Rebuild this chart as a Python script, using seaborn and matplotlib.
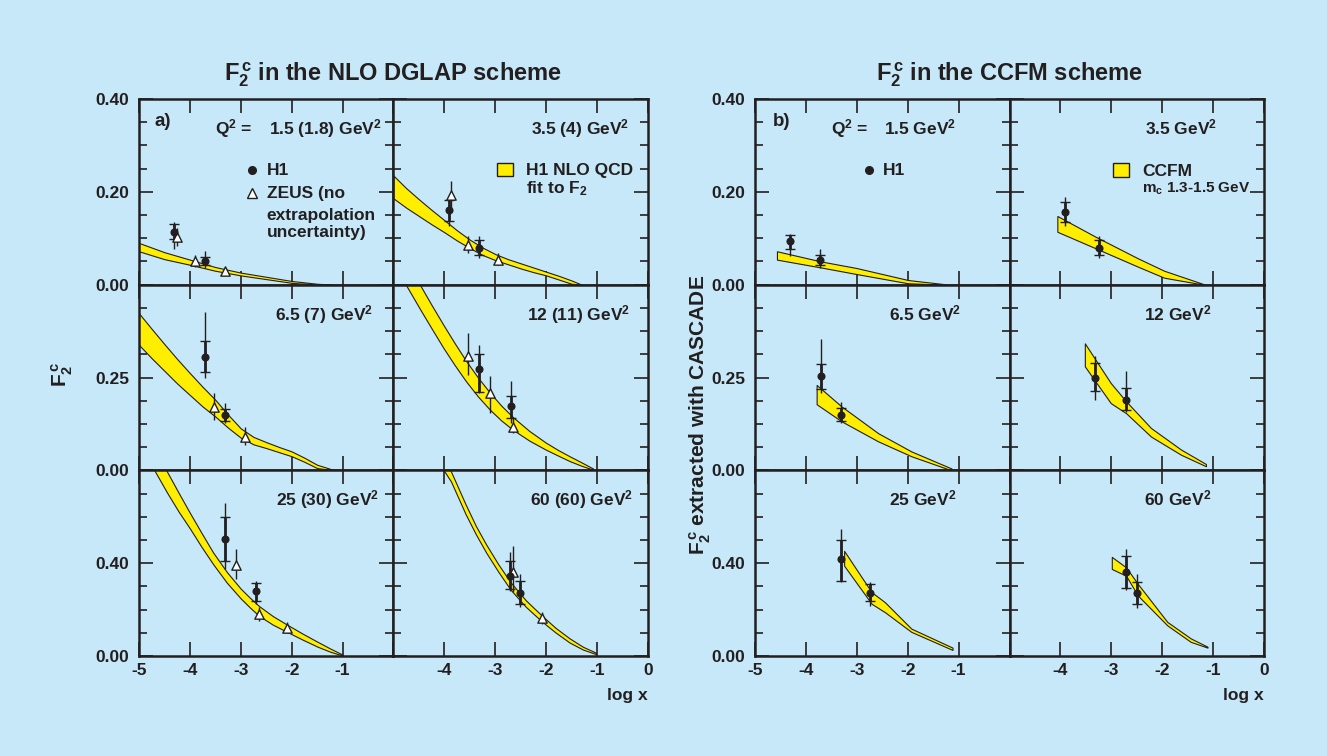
import matplotlib
matplotlib.use("Agg")
import matplotlib.pyplot as plt
import seaborn as sns
from matplotlib.patches import Rectangle
from matplotlib.ticker import FixedLocator, MultipleLocator

BG = '#c6e8f8'
INK = '#231f20'
BAND = '#ffee00'

# Q^2 bins shown in the panels
q2_dglap = ['1.5 (1.8)', '3.5 (4)', '6.5 (7)', '12 (11)', '25 (30)', '60 (60)']
q2_ccfm = ['1.5', '3.5', '6.5', '12', '25', '60']
row_top = [0.40, 0.50, 0.80]
row_ticklabels = [['0.00', '0.20', '0.40'], ['0.00', '0.25', ''], ['0.00', '0.40', '']]

# H1 NLO QCD fit band (log x, upper, lower) per panel
dglap_x = [
    [-5.0, -4.5, -4.0, -3.5, -3.0, -2.5, -2.0, -1.75, -1.5, -1.2],
    [-5.0, -4.75, -4.5, -4.25, -4.0, -3.75, -3.5, -3.25, -3.0, -2.75, -2.5, -2.25, -2.0,
     -1.75, -1.5, -1.3],
    [-5.0, -4.75, -4.5, -4.25, -4.0, -3.75, -3.5, -3.25, -3.0, -2.75, -2.5, -2.25, -2.0,
     -1.75, -1.5, -1.15],
    [-4.8, -4.46, -4.25, -4.02, -3.8, -3.57, -3.34, -3.11, -2.88, -2.65, -2.33, -2.01,
     -1.77, -1.54, -1.3, -1.08],
    [-4.8, -4.45, -4.22, -4.0, -3.77, -3.54, -3.27, -3.0, -2.82, -2.64, -2.37, -2.09,
     -1.79, -1.49, -1.25, -1.0],
    [-4.1, -3.87, -3.58, -3.38, -3.18, -2.94, -2.70, -2.40, -2.09, -1.82, -1.54, -1.28, -1.02],
]
dglap_hi = [
    [0.090, 0.070, 0.054, 0.038, 0.026, 0.017, 0.008, 0.005, 0.002, 0.0],
    [0.235, 0.208, 0.184, 0.161, 0.139, 0.117, 0.097, 0.080, 0.066, 0.055, 0.046, 0.037,
     0.028, 0.019, 0.009, 0.0],
    [0.423, 0.381, 0.340, 0.300, 0.262, 0.225, 0.190, 0.150, 0.113, 0.090, 0.076, 0.063,
     0.051, 0.034, 0.015, 0.0],
    [0.575, 0.495, 0.445, 0.392, 0.343, 0.294, 0.250, 0.210, 0.174, 0.143, 0.106, 0.075,
     0.055, 0.038, 0.021, 0.005],
    [0.940, 0.795, 0.703, 0.617, 0.530, 0.445, 0.361, 0.290, 0.251, 0.215, 0.172, 0.135,
     0.097, 0.061, 0.033, 0.006],
    [0.910, 0.795, 0.652, 0.560, 0.481, 0.395, 0.318, 0.240, 0.175, 0.122, 0.076, 0.040, 0.014],
]
dglap_lo = [
    [0.072, 0.055, 0.043, 0.030, 0.020, 0.012, 0.004, 0.002, 0.000, 0.0],
    [0.186, 0.166, 0.148, 0.130, 0.113, 0.095, 0.079, 0.064, 0.053, 0.044, 0.035, 0.027,
     0.020, 0.011, 0.002, 0.0],
    [0.338, 0.302, 0.268, 0.234, 0.203, 0.172, 0.145, 0.115, 0.088, 0.070, 0.060, 0.049,
     0.038, 0.023, 0.006, 0.0],
    [0.510, 0.430, 0.382, 0.330, 0.284, 0.239, 0.199, 0.164, 0.134, 0.109, 0.080, 0.056,
     0.040, 0.025, 0.012, 0.002],
    [0.840, 0.705, 0.622, 0.550, 0.470, 0.395, 0.315, 0.248, 0.209, 0.173, 0.135, 0.104,
     0.071, 0.040, 0.019, 0.002],
    [0.830, 0.752, 0.610, 0.524, 0.446, 0.363, 0.286, 0.212, 0.150, 0.102, 0.058, 0.028, 0.008],
]

# CCFM band per panel
ccfm_x = [
    [-4.57, -3.70, -3.01, -1.99, -1.27],
    [-4.06, -3.32, -2.48, -1.96, -1.18],
    [-3.79, -3.30, -2.58, -1.93, -1.14],
    [-3.52, -3.01, -2.71, -2.22, -1.63, -1.14],
    [-3.25, -2.71, -2.45, -1.93, -1.12],
    [-2.99, -2.71, -2.48, -1.90, -1.44, -1.11],
]
ccfm_hi = [
    [0.072, 0.050, 0.036, 0.010, 0.001],
    [0.148, 0.104, 0.057, 0.030, 0.001],
    [0.230, 0.172, 0.100, 0.051, 0.005],
    [0.342, 0.235, 0.186, 0.114, 0.056, 0.017],
    [0.453, 0.275, 0.232, 0.118, 0.036],
    [0.427, 0.382, 0.311, 0.147, 0.076, 0.040],
]
ccfm_lo = [
    [0.054, 0.037, 0.023, 0.003, 0.0],
    [0.114, 0.079, 0.039, 0.015, 0.0],
    [0.178, 0.132, 0.078, 0.038, 0.0],
    [0.280, 0.181, 0.154, 0.091, 0.042, 0.011],
    [0.389, 0.225, 0.189, 0.104, 0.026],
    [0.375, 0.346, 0.261, 0.132, 0.061, 0.036],
]

# H1 points: (log x, F2c, stat low, stat high, total low, total high)
h1_dglap = [
    [(-4.32, 0.113, 0.098, 0.130, 0.076, 0.135), (-3.70, 0.052, 0.043, 0.060, 0.035, 0.073)],
    [(-3.91, 0.160, 0.137, 0.182, 0.126, 0.184), (-3.32, 0.080, 0.065, 0.096, 0.057, 0.104)],
    [(-3.70, 0.306, 0.264, 0.347, 0.248, 0.427), (-3.30, 0.148, 0.132, 0.166, 0.127, 0.181)],
    [(-3.32, 0.273, 0.212, 0.313, 0.208, 0.338), (-2.70, 0.172, 0.141, 0.201, 0.127, 0.241)],
    [(-3.30, 0.506, 0.410, 0.599, 0.374, 0.661), (-2.70, 0.278, 0.239, 0.315, 0.225, 0.325)],
    [(-2.72, 0.346, 0.289, 0.410, 0.282, 0.446), (-2.51, 0.271, 0.225, 0.321, 0.211, 0.353)],
]
h1_ccfm = [
    [(-4.31, 0.094, 0.077, 0.108, 0.061, 0.110), (-3.72, 0.054, 0.043, 0.065, 0.035, 0.077)],
    [(-3.90, 0.157, 0.135, 0.178, 0.126, 0.188), (-3.25, 0.080, 0.065, 0.096, 0.057, 0.104)],
    [(-3.71, 0.253, 0.219, 0.287, 0.208, 0.354), (-3.31, 0.150, 0.134, 0.168, 0.127, 0.184)],
    [(-3.32, 0.250, 0.214, 0.288, 0.190, 0.309), (-2.71, 0.190, 0.163, 0.221, 0.157, 0.268)],
    [(-3.31, 0.420, 0.325, 0.500, 0.318, 0.548), (-2.75, 0.272, 0.235, 0.311, 0.215, 0.318)],
    [(-2.71, 0.360, 0.292, 0.429, 0.286, 0.463), (-2.50, 0.271, 0.225, 0.318, 0.207, 0.353)],
]
# ZEUS points: (log x, F2c, total low, total high)
zeus = [
    [(-4.26, 0.103, 0.083, 0.122), (-3.89, 0.051, 0.039, 0.065), (-3.30, 0.030, 0.022, 0.038)],
    [(-3.86, 0.193, 0.162, 0.224), (-3.54, 0.086, 0.068, 0.104), (-2.94, 0.054, 0.043, 0.068)],
    [(-3.53, 0.170, 0.136, 0.208), (-2.92, 0.090, 0.069, 0.118)],
    [(-3.54, 0.309, 0.257, 0.369), (-3.11, 0.208, 0.154, 0.253), (-2.66, 0.118, 0.100, 0.141)],
    [(-3.10, 0.392, 0.332, 0.460), (-2.65, 0.179, 0.150, 0.211), (-2.10, 0.121, 0.097, 0.146)],
    [(-2.66, 0.360, 0.275, 0.474), (-2.09, 0.164, 0.139, 0.189)],
]

sns.set_theme(style='ticks')
plt.rcParams['font.family'] = ['Liberation Sans', 'DejaVu Sans']
plt.rcParams['font.weight'] = 'bold'
plt.rcParams['mathtext.fontset'] = 'custom'
plt.rcParams['mathtext.rm'] = 'Liberation Sans:bold'
plt.rcParams['mathtext.it'] = 'Liberation Sans:bold'
plt.rcParams['mathtext.bf'] = 'Liberation Sans:bold'
plt.rcParams['mathtext.default'] = 'rm'
plt.rcParams['text.color'] = INK


def frame(ax, r, c):
    top = row_top[r]
    ax.set_facecolor(BG)
    ax.set_xlim(-5, 0)
    ax.set_ylim(0, top)
    ax.xaxis.set_major_locator(FixedLocator([-5, -4, -3, -2, -1, 0]))
    ax.yaxis.set_major_locator(FixedLocator([0, top / 2, top]))
    ax.yaxis.set_minor_locator(MultipleLocator(top / 8))
    ax.tick_params(which='both', direction='in', top=True, right=True,
                   width=1.2, color=INK, labelcolor=INK, labelsize=12.5)
    ax.tick_params(which='major', length=10)
    ax.tick_params(which='minor', length=5.5)
    ax.tick_params(axis='y', pad=7, labelleft=(c == 0))
    ax.tick_params(axis='x', pad=5, labelbottom=(r == 2))
    if c == 0:
        ax.set_yticklabels(row_ticklabels[r])
    if r == 2:
        ax.set_xticklabels(['-5', '-4', '-3', '-2', '-1', ''] if c == 0
                           else ['', '-4', '-3', '-2', '-1', '0'])
    for s in ax.spines.values():
        s.set_linewidth(1.8)
        s.set_color(INK)


def draw_h1(ax, pts):
    xs = [p[0] for p in pts]
    ys = [p[1] for p in pts]
    tot = [[p[1] - p[4] for p in pts], [p[5] - p[1] for p in pts]]
    stat = [[p[1] - p[2] for p in pts], [p[3] - p[1] for p in pts]]
    ax.errorbar(xs, ys, yerr=tot, fmt='none', ecolor=INK, elinewidth=1.0, zorder=3)
    ax.errorbar(xs, ys, yerr=stat, fmt='none', ecolor=INK, elinewidth=2.0,
                capsize=3.5, capthick=1.0, zorder=3)
    sns.scatterplot(x=xs, y=ys, ax=ax, marker='o', s=34, color=INK,
                    linewidth=0, zorder=5)


def draw_zeus(ax, pts):
    xs = [p[0] for p in pts]
    ys = [p[1] for p in pts]
    tot = [[p[1] - p[2] for p in pts], [p[3] - p[1] for p in pts]]
    ax.errorbar(xs, ys, yerr=tot, fmt='none', ecolor=INK, elinewidth=1.0, zorder=3)
    sns.scatterplot(x=xs, y=ys, ax=ax, marker='^', s=45, color='white',
                    edgecolor=INK, linewidth=1.0, zorder=4)


fig = plt.figure(figsize=(13.27, 7.56), dpi=100, facecolor=BG)
gl = fig.add_gridspec(3, 2, left=0.1047, right=0.4883, top=0.869, bottom=0.1323,
                      wspace=0, hspace=0)
gr = fig.add_gridspec(3, 2, left=0.569, right=0.9525, top=0.869, bottom=0.1323,
                      wspace=0, hspace=0)

label_right_l = [0.955, 0.925, 0.92, 0.93, 0.945, 0.94]
label_right_r = [0.79, 0.815, 0.81, 0.795, 0.79, 0.795]
txt = dict(fontsize=12.5, fontweight='bold', color=INK)

for k in range(6):
    r, c = divmod(k, 2)

    # left: NLO DGLAP
    ax = fig.add_subplot(gl[r, c])
    frame(ax, r, c)
    ax.fill_between(dglap_x[k], dglap_lo[k], dglap_hi[k], facecolor=BAND,
                    edgecolor=INK, linewidth=0.8, zorder=2)
    draw_zeus(ax, zeus[k])
    draw_h1(ax, h1_dglap[k])
    ax.text(label_right_l[k], 0.81, f'{q2_dglap[k]} GeV$^2$', transform=ax.transAxes,
            ha='right', va='baseline', **txt)
    if k == 0:
        ax.text(0.06, 0.855, 'a)', transform=ax.transAxes, ha='left', va='baseline',
                fontsize=13.5, fontweight='bold')
        ax.text(0.30, 0.81, 'Q$^2$ =', transform=ax.transAxes, ha='left',
                va='baseline', **txt)
        ax.plot([0.443], [0.618], 'o', ms=5.5, color=INK, transform=ax.transAxes)
        ax.plot([0.443], [0.496], '^', ms=6.5, mfc='white', mec=INK, mew=1.0,
                transform=ax.transAxes)
        for line, yy in zip(['H1', 'ZEUS (no', 'extrapolation', 'uncertainty)'],
                            [0.59, 0.467, 0.35, 0.257]):
            ax.text(0.502, yy, line, transform=ax.transAxes, ha='left',
                    va='baseline', **txt)
    if k == 1:
        ax.add_patch(Rectangle((0.405, 0.587), 0.063, 0.071, transform=ax.transAxes,
                               facecolor=BAND, edgecolor=INK, linewidth=1.0))
        ax.text(0.52, 0.592, 'H1 NLO QCD', transform=ax.transAxes, ha='left',
                va='baseline', **txt)
        ax.text(0.52, 0.493, 'fit to F$_2$', transform=ax.transAxes, ha='left',
                va='baseline', **txt)

    # right: CCFM
    ax = fig.add_subplot(gr[r, c])
    frame(ax, r, c)
    ax.fill_between(ccfm_x[k], ccfm_lo[k], ccfm_hi[k], facecolor=BAND,
                    edgecolor=INK, linewidth=0.8, zorder=2)
    draw_h1(ax, h1_ccfm[k])
    ax.text(label_right_r[k], 0.81, f'{q2_ccfm[k]} GeV$^2$', transform=ax.transAxes,
            ha='right', va='baseline', **txt)
    if k == 0:
        ax.text(0.07, 0.855, 'b)', transform=ax.transAxes, ha='left', va='baseline',
                fontsize=13.5, fontweight='bold')
        ax.text(0.298, 0.81, 'Q$^2$ =', transform=ax.transAxes, ha='left',
                va='baseline', **txt)
        ax.plot([0.447], [0.62], 'o', ms=5.5, color=INK, transform=ax.transAxes)
        ax.text(0.502, 0.59, 'H1', transform=ax.transAxes, ha='left',
                va='baseline', **txt)
    if k == 1:
        ax.add_patch(Rectangle((0.405, 0.582), 0.064, 0.076, transform=ax.transAxes,
                               facecolor=BAND, edgecolor=INK, linewidth=1.0))
        ax.text(0.52, 0.587, 'CCFM', transform=ax.transAxes, ha='left',
                va='baseline', **txt)
        ax.text(0.52, 0.496, 'm$_c$ 1.3-1.5 GeV', transform=ax.transAxes, ha='left',
                va='baseline', fontsize=11, fontweight='bold', color=INK)

# titles and axis labels
fig.text(0.296, 0.893, 'F$_2^{\\,c}$ in the NLO DGLAP scheme', ha='center',
         va='baseline', fontsize=17, fontweight='bold')
fig.text(0.761, 0.893, 'F$_2^{\\,c}$ in the CCFM scheme', ha='center',
         va='baseline', fontsize=17, fontweight='bold')
fig.text(0.047, 0.505, 'F$_2^{\\,c}$', rotation=90, ha='center', va='center',
         fontsize=15, fontweight='bold')
fig.text(0.5275, 0.451, 'F$_2^{\\,c}$ extracted with CASCADE', rotation=90,
         ha='center', va='center', fontsize=15, fontweight='bold')
fig.text(0.4883, 0.074, 'log x', ha='right', va='baseline', fontsize=12.5,
         fontweight='bold')
fig.text(0.9525, 0.074, 'log x', ha='right', va='baseline', fontsize=12.5,
         fontweight='bold')

fig.savefig('out.png', dpi=100, facecolor=BG)
